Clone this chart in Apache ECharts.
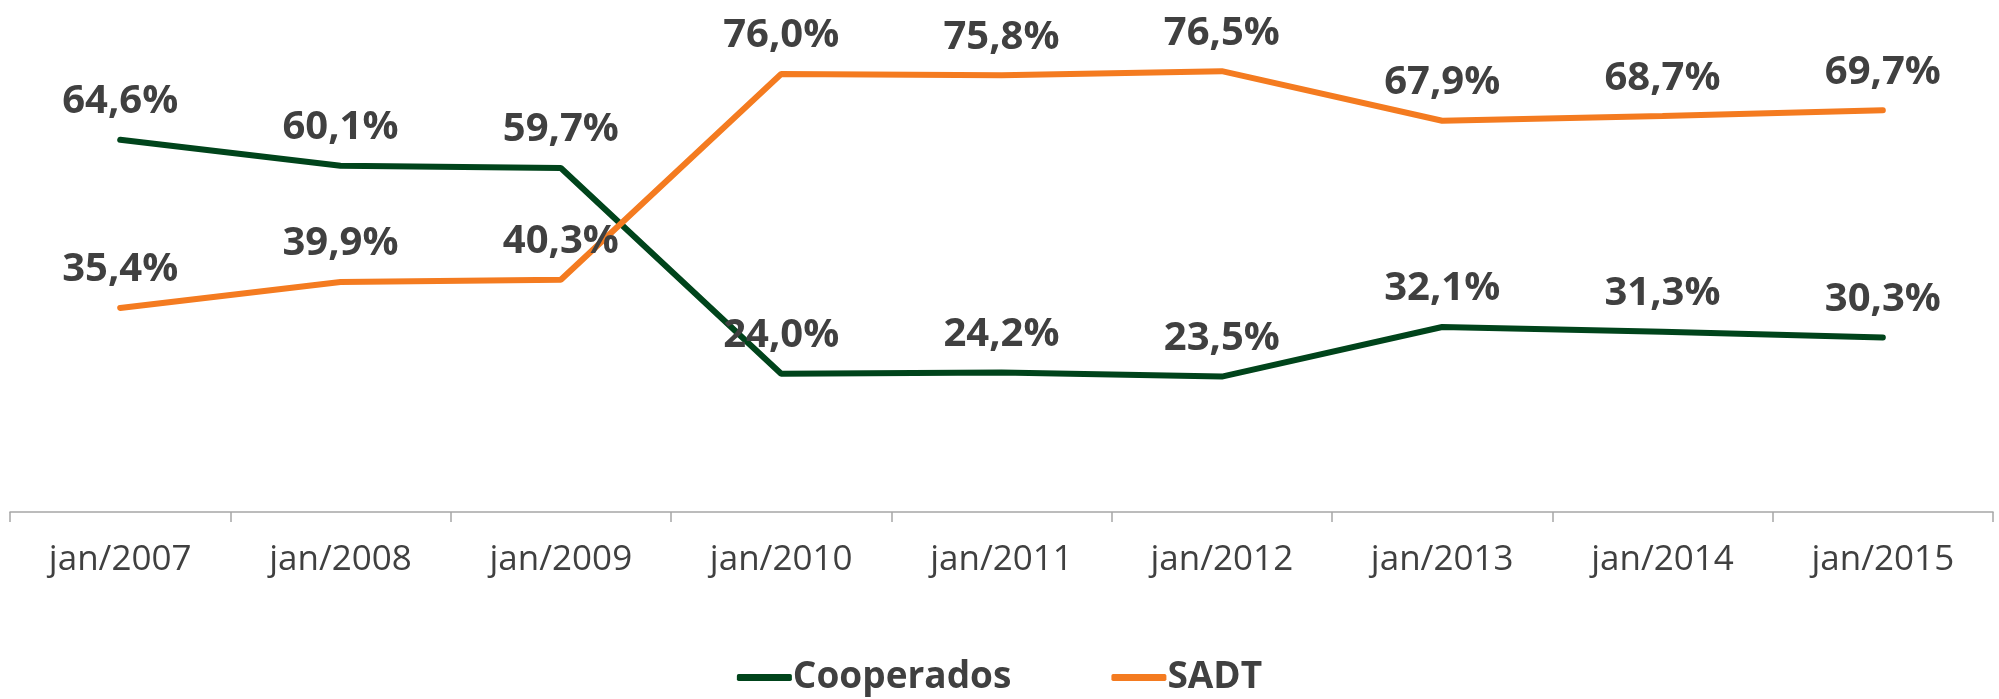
<!DOCTYPE html>
<html>
<head>
<meta charset="utf-8">
<script src="https://cdn.jsdelivr.net/npm/echarts@6/dist/echarts.min.js"></script>
<style>
  html, body { margin: 0; padding: 0; background: #fff; }
  #chart { width: 1999px; height: 699px; }
</style>
</head>
<body>
<div id="chart"></div>
<script>
var categories = ['jan/2007', 'jan/2008', 'jan/2009', 'jan/2010', 'jan/2011', 'jan/2012', 'jan/2013', 'jan/2014', 'jan/2015'];
var cooperados = [64.6, 60.1, 59.7, 24.0, 24.2, 23.5, 32.1, 31.3, 30.3];
var sadt = [35.4, 39.9, 40.3, 76.0, 75.8, 76.5, 67.9, 68.7, 69.7];

var fontFam = '"Open Sans", "Noto Sans", sans-serif';
var textColor = '#404040';

function pct(p) {
    return p.value.toFixed(1).replace('.', ',') + '%';
}

var myChart = echarts.init(document.getElementById('chart'));
var options = {
    animation: false,
    grid: { left: 10, right: 6, top: 51, bottom: 187 },
    xAxis: {
        type: 'category',
        data: categories,
        axisLine: { lineStyle: { color: '#a6a6a6', width: 1.5 } },
        axisTick: { show: true, length: 10, lineStyle: { color: '#a6a6a6', width: 1.5 } },
        axisLabel: { color: textColor, fontSize: 35, fontFamily: fontFam, margin: 31 }
    },
    yAxis: {
        type: 'value',
        min: 0,
        max: 80,
        show: false
    },
    legend: {
        top: 659,
        left: 'center',
        padding: 0,
        icon: 'roundRect',
        itemWidth: 55,
        itemHeight: 7,
        itemGap: 100,
        textStyle: { color: textColor, fontSize: 37, fontWeight: 'bold', fontFamily: fontFam, padding: [0, 0, 0, -4] },
        data: ['Cooperados', 'SADT']
    },
    series: [
        {
            name: 'Cooperados',
            type: 'line',
            data: cooperados,
            symbol: 'circle',
            symbolSize: 0,
            color: '#00441b',
            lineStyle: { width: 6, color: '#00441b', cap: 'round' },
            label: {
                show: true, position: 'top', distance: 18,
                color: textColor, fontSize: 40, fontWeight: 'bold', fontFamily: fontFam,
                formatter: pct
            }
        },
        {
            name: 'SADT',
            type: 'line',
            data: sadt,
            symbol: 'circle',
            symbolSize: 0,
            color: '#f47b20',
            lineStyle: { width: 6, color: '#f47b20', cap: 'round' },
            label: {
                show: true, position: 'top', distance: 18,
                color: textColor, fontSize: 40, fontWeight: 'bold', fontFamily: fontFam,
                formatter: pct
            }
        }
    ]
};
myChart.setOption(options, true);
</script>
</body>
</html>
